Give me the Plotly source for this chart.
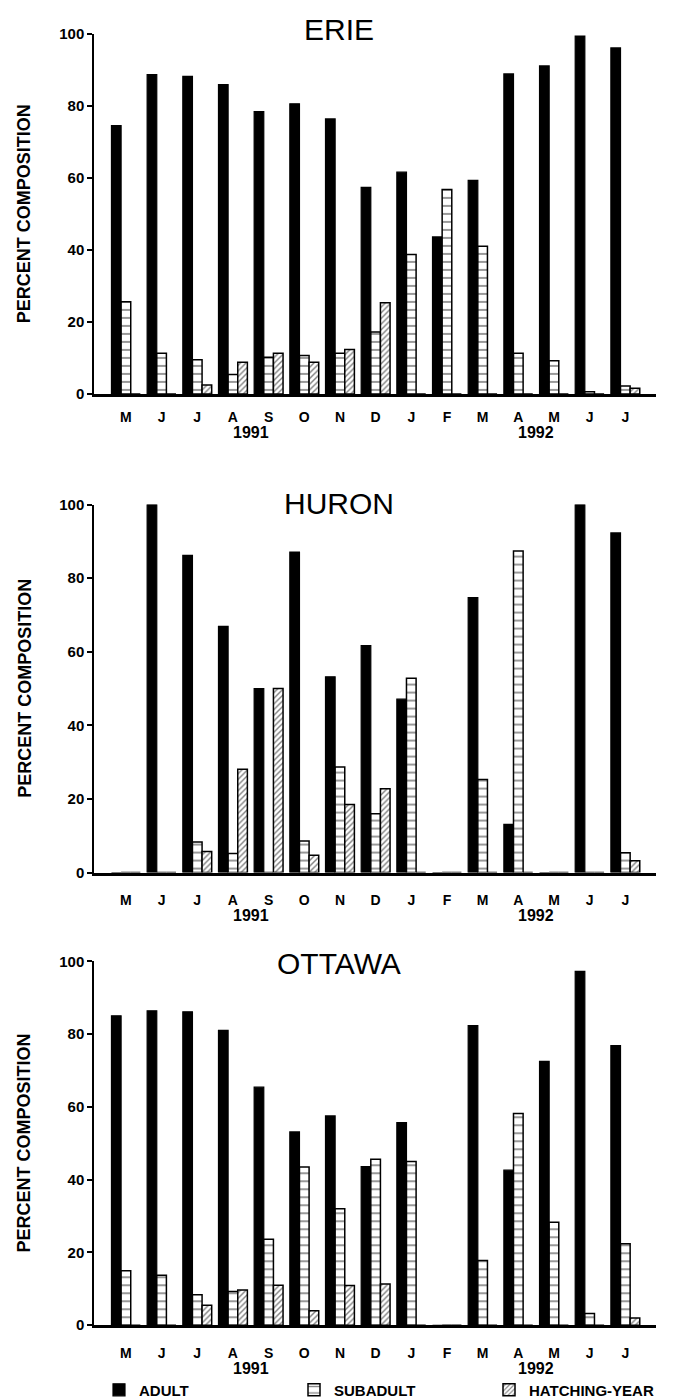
import plotly.graph_objects as go

# ---------------- data ----------------
months = ["M", "J", "J", "A", "S", "O", "N", "D", "J", "F", "M", "A", "M", "J", "J"]
year_labels = ["1991", "1992"]
year_positions = [3.5, 11.5]          # centred between A/S (1991) and A/M (1992)
series_names = ["ADULT", "SUBADULT", "HATCHING-YEAR"]
panel_names = ["ERIE", "HURON", "OTTAWA"]

erie_adult = [74.5, 88.7, 88.2, 85.9, 78.4, 80.6, 76.4, 57.4, 61.6, 43.6, 59.3, 88.9, 91.1, 99.4, 96.1]
erie_subadult = [25.6, 11.3, 9.5, 5.4, 10.2, 10.7, 11.3, 17.2, 38.7, 56.8, 41.0, 11.3, 9.2, 0.6, 2.2]
erie_hatching = [0, 0, 2.5, 8.8, 11.3, 8.8, 12.3, 25.3, 0, 0, 0, 0, 0, 0, 1.6]

huron_adult = [0, 100, 86.2, 66.9, 50.0, 87.1, 53.2, 61.7, 47.1, 0, 74.7, 13.1, 0, 100, 92.3]
huron_subadult = [0, 0, 8.3, 5.2, 0, 8.6, 28.7, 16.0, 52.8, 0, 25.3, 87.4, 0, 0, 5.4]
huron_hatching = [0, 0, 5.7, 28.1, 50.0, 4.7, 18.5, 22.8, 0, 0, 0, 0, 0, 0, 3.2]

ottawa_adult = [85.0, 86.4, 86.1, 81.0, 65.4, 53.1, 57.5, 43.6, 55.7, 0, 82.3, 42.6, 72.5, 97.2, 76.8]
ottawa_subadult = [15.0, 13.7, 8.4, 9.3, 23.6, 43.5, 32.0, 45.6, 45.0, 0, 17.8, 58.2, 28.3, 3.2, 22.4]
ottawa_hatching = [0, 0, 5.5, 9.7, 11.0, 4.0, 10.9, 11.3, 0, 0, 0, 0, 0, 0, 2.0]

panels = [
    (erie_adult, erie_subadult, erie_hatching),
    (huron_adult, huron_subadult, huron_hatching),
    (ottawa_adult, ottawa_subadult, ottawa_hatching),
]

# ---------------- layout geometry (pixels) ----------------
W, H = 676, 1399
AX_LEFT = 90
panel_px = [  # (y of 0, y of 100, month-label ticklen, year-label y, title y)
    (387, 26, 9, 426, 22),
    (867, 498, 13, 910, 497),
    (1321, 956, 13, 1364, 958),
]

FONT = "Liberation Sans, Arial, Helvetica, sans-serif"
x_pos = list(range(len(months)))

fig = go.Figure()

styles = [
    dict(color="black", line=dict(color="black", width=1.2)),
    dict(color="white", line=dict(color="black", width=1.5),
         pattern=dict(shape="-", fgcolor="black", bgcolor="white", size=8, solidity=0.2)),
    dict(color="white", line=dict(color="black", width=1.5),
         pattern=dict(shape="/", fgcolor="black", bgcolor="white", size=4, solidity=0.35)),
]

for pi, series in enumerate(panels):
    ax = "" if pi == 0 else str(pi + 1)
    for si, vals in enumerate(series):
        fig.add_trace(go.Bar(
            x=x_pos, y=vals, name=series_names[si],
            marker=styles[si], xaxis="x" + ax, yaxis="y" + ax,
            showlegend=(pi == 0), legendgroup=series_names[si],
            cliponaxis=False,
        ))

layout = dict(
    width=W, height=H,
    margin=dict(l=0, r=0, t=0, b=0),
    paper_bgcolor="white", plot_bgcolor="white",
    barmode="group", bargap=0.19, bargroupgap=0,
    font=dict(family=FONT, color="black"),
    legend=dict(
        orientation="h", x=95 / W, xanchor="left", y=1 - 1386 / H, yanchor="middle",
        font=dict(family=FONT, size=15, weight=700, color="black"),
        entrywidth=150, entrywidthmode="pixels", traceorder="normal",
        bgcolor="rgba(0,0,0,0)",
    ),
)

annotations = []
for pi, (y0, y100, tlen, yyear, ytitle) in enumerate(panel_px):
    ax = "" if pi == 0 else str(pi + 1)
    layout["xaxis" + ax] = dict(
        domain=[AX_LEFT / W, 1], range=[-0.887, 14.86], anchor="y" + ax,
        tickmode="array", tickvals=x_pos, ticktext=months,
        ticks="outside", ticklen=tlen, tickcolor="rgba(0,0,0,0)",
        tickfont=dict(family=FONT, size=14, weight=700, color="black"),
        showline=True, linewidth=2.5, linecolor="black",
        showgrid=False, zeroline=False, automargin=False, fixedrange=True,
    )
    layout["yaxis" + ax] = dict(
        domain=[1 - y0 / H, 1 - y100 / H], range=[0, 100], anchor="x" + ax,
        tickmode="array", tickvals=[0, 20, 40, 60, 80, 100],
        ticks="outside", ticklen=5, tickwidth=2, tickcolor="black",
        tickfont=dict(family=FONT, size=15, weight=700, color="black"),
        showline=True, linewidth=2, linecolor="black",
        showgrid=False, zeroline=False, automargin=False, fixedrange=True,
    )
    annotations.append(dict(
        text=panel_names[pi], xref="paper", yref="paper",
        x=345 / W, y=1 - ytitle / H, xanchor="center", yanchor="middle",
        showarrow=False, font=dict(family=FONT, size=30, color="black"),
    ))
    annotations.append(dict(
        text="PERCENT COMPOSITION", xref="paper", yref="y" + ax + " domain",
        x=17 / W, y=0.5, xanchor="center", yanchor="middle", textangle=-90,
        showarrow=False, font=dict(family=FONT, size=18, weight=700, color="black"),
    ))
    for yl, yp in zip(year_labels, year_positions):
        annotations.append(dict(
            text=yl, xref="x" + ax, yref="paper", x=yp, y=1 - yyear / H,
            xanchor="center", yanchor="middle", showarrow=False,
            font=dict(family=FONT, size=16, weight=700, color="black"),
        ))

layout["annotations"] = annotations
fig.update_layout(**layout)
fig.write_html("out.html")
